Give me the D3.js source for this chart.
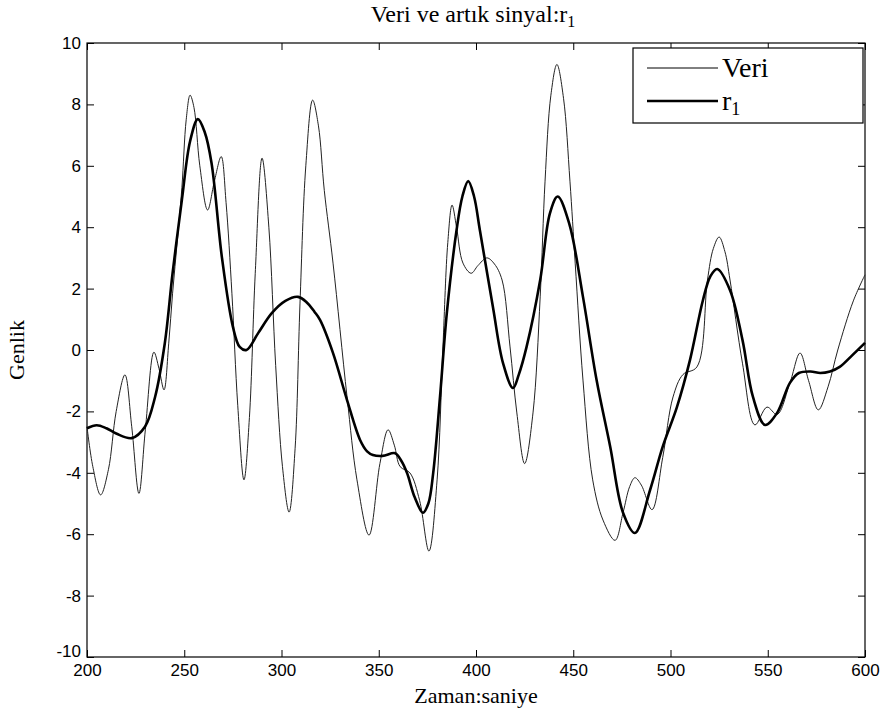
<!DOCTYPE html>
<html><head><meta charset="utf-8">
<script src="https://cdn.jsdelivr.net/npm/d3@7"></script>
<style>
body{margin:0;background:#fff;}
svg{display:block;}
.tick text{font-family:"Liberation Sans Narrow","Liberation Sans",Arial,sans-serif;}
.serif{font-family:"Liberation Serif","Times New Roman",serif;}
</style></head>
<body>
<svg id="chart" width="885" height="715"></svg>
<script>
// ---- data ----
const veriX = [200,203,207,211,215,219.5,223,226.7,230,234.4,237,239.6,242,244,246.5,248.8,251,253,255,258,262,265.5,269,271.5,274.5,277.5,280.7,283.5,286.5,290,293.5,297,300.5,303.9,307,309.5,312.5,316,319,322,326.5,333.7,338.8,345,350.6,354.8,358,361,366,371,375.8,380,383,385.5,387.7,390,393.3,397.5,401,405.6,409.5,413.4,417.5,421,425,429.3,433,435.5,438.5,441.6,445,448.3,451,455,460,465.3,471.5,475.6,479,481.7,485,490.5,496,501.3,506.4,513.6,519,522,525,528,530.6,537,543.4,549.6,554.8,561.4,566.6,571,576,581,586,594,600];
const veriY = [-2.5,-3.8,-4.72,-3.9,-2.0,-0.81,-2.5,-4.67,-2.6,-0.07,-0.6,-1.3,0.2,1.85,3.6,5.3,7.5,8.3,7.9,6.0,4.56,5.5,6.3,4.8,1.85,-1.8,-4.23,-2.2,2.5,6.25,4.0,-0.5,-3.8,-5.28,-3.2,1.5,6.0,8.14,7.3,5.2,2.83,-1.53,-4.23,-6.03,-3.7,-2.6,-3.1,-3.8,-4.0,-4.9,-6.55,-4.23,0.1,3.5,4.72,4.0,2.83,2.5,2.75,3.0,2.8,2.28,0.1,-2.05,-3.7,-2.05,1.73,5.5,8.3,9.3,8.2,5.5,2.83,-0.98,-4.23,-5.54,-6.2,-5.3,-4.45,-4.16,-4.4,-5.2,-3.5,-1.53,-0.8,-0.55,2.28,3.3,3.68,3.2,2.28,-0.43,-2.44,-1.86,-2.1,-1.07,-0.1,-1.0,-1.95,-1.2,0,1.6,2.45];
const r1X = [200,205,210,215,223,229.8,235,240,244,248.8,253,257,260.5,264,269.4,275,278.5,282,288,295,302,308.5,313,317,319.8,326.5,333.7,340.4,344,347,352,358.4,361.5,364.5,368.5,372.7,375.5,378,381.5,385,390,393,396,399,402,408.7,413.9,419,422,426,433,438,442,448,455,462,469,475.6,481.7,489.5,496,503.3,510,516.7,520.5,524,530.6,537,542.4,548.6,554.8,561.4,566,572,577,582,587,593,600];
const r1Y = [-2.55,-2.45,-2.55,-2.72,-2.87,-2.5,-1.53,0.22,2.5,4.9,6.8,7.52,7.1,6.1,3.0,0.76,0.1,0,0.55,1.2,1.6,1.73,1.55,1.24,0.98,-0.1,-1.63,-2.93,-3.3,-3.42,-3.45,-3.36,-3.6,-4.0,-4.8,-5.3,-5.0,-4.0,-1.52,1.2,3.9,5.0,5.5,5.0,3.9,1.4,-0.43,-1.24,-0.8,0.1,2.28,4.45,5.0,4.1,1.73,-0.98,-3.15,-5.3,-5.96,-4.56,-3.15,-1.86,-0.33,1.63,2.4,2.64,1.95,0.33,-1.53,-2.44,-2.05,-1.07,-0.75,-0.7,-0.75,-0.7,-0.55,-0.2,0.23];
const xTicks = [200,250,300,350,400,450,500,550,600];
const yTicks = [-10,-8,-6,-4,-2,0,2,4,6,8,10];
const seriesNames = ["Veri","r"];

// ---- layout ----
const L = 87, T = 43, W = 778, H = 614;
const svg = d3.select("#chart");
const x = d3.scaleLinear().domain([200,600]).range([L, L+W]);
const y = d3.scaleLinear().domain([-10,10]).range([T+H, T]);

const tickFont = "17px";
// bottom axis
const gB = svg.append("g").attr("transform",`translate(0,${T+H})`)
  .call(d3.axisBottom(x).tickValues(xTicks).tickFormat(d3.format("d")).tickSizeInner(-7).tickSizeOuter(0).tickPadding(4));
// top axis
const gT = svg.append("g").attr("transform",`translate(0,${T})`)
  .call(d3.axisTop(x).tickValues(xTicks).tickFormat("").tickSizeInner(-7).tickSizeOuter(0));
// left axis
const gL = svg.append("g").attr("transform",`translate(${L},0)`)
  .call(d3.axisLeft(y).tickValues(yTicks).tickFormat(d => d < 0 ? "-" + Math.abs(d) : String(d)).tickSizeInner(-7).tickSizeOuter(0).tickPadding(6));
// right axis
const gR = svg.append("g").attr("transform",`translate(${L+W},0)`)
  .call(d3.axisRight(y).tickValues(yTicks).tickFormat("").tickSizeInner(-7).tickSizeOuter(0));
[gB,gT,gL,gR].forEach(g => {
  g.select(".domain").remove();
  g.selectAll("line").attr("stroke","#000").attr("stroke-width",1);
  g.selectAll("text").attr("fill","#000").style("font-size",tickFont);
});
gB.selectAll("text").attr("dy","0.9em");
// lift the lowest y label clear of the first x label, as in the reference
gL.selectAll(".tick").filter(d => d === -10).select("text").attr("dy","-0.05em");

// frame
svg.append("rect").attr("x",L).attr("y",T).attr("width",W).attr("height",H)
  .attr("fill","none").attr("stroke","#000").attr("stroke-width",1.2);

// lines
const line = d3.line().curve(d3.curveCatmullRom.alpha(0.5));
const veriPts = veriX.map((d,i)=>[x(d), y(veriY[i])]);
const r1Pts = r1X.map((d,i)=>[x(d), y(r1Y[i])]);
svg.append("path").attr("d", line(veriPts)).attr("fill","none").attr("stroke","#222").attr("stroke-width",1);
svg.append("path").attr("d", line(r1Pts)).attr("fill","none").attr("stroke","#000").attr("stroke-width",2.6);

// titles
const serif = "Liberation Serif, Times New Roman, serif";
const title = svg.append("text").attr("class","serif").attr("font-family",serif)
  .attr("x", L+W/2 - 3).attr("y", 22).attr("text-anchor","middle").attr("font-size",24);
title.append("tspan").text("Veri ve artık sinyal:r");
title.append("tspan").attr("font-size",16).attr("dy","5").text("1");

svg.append("text").attr("class","serif").attr("font-family",serif)
  .attr("x", L+W/2).attr("y", 703).attr("text-anchor","middle")
  .attr("font-size",22).text("Zaman:saniye");

svg.append("text").attr("class","serif").attr("font-family",serif)
  .attr("transform","translate(24,350) rotate(-90)").attr("text-anchor","middle")
  .attr("font-size",22).text("Genlik");

// legend
const lg = svg.append("g");
lg.append("rect").attr("x",633).attr("y",48).attr("width",230).attr("height",75)
  .attr("fill","#fff").attr("stroke","#000").attr("stroke-width",1.2);
const legY = [68, 101];
const legW = [1, 2.6];
seriesNames.forEach((n,i)=>{
  lg.append("line").attr("x1",647).attr("x2",718).attr("y1",legY[i]).attr("y2",legY[i])
    .attr("stroke","#000").attr("stroke-width",legW[i]);
  const t = lg.append("text").attr("class","serif").attr("font-family",serif)
    .attr("x",722).attr("y",legY[i]+9).attr("font-size",28).text(n);
  if (i===1) t.append("tspan").attr("font-size",18).attr("dy","5").text("1");
});
</script>
</body></html>
